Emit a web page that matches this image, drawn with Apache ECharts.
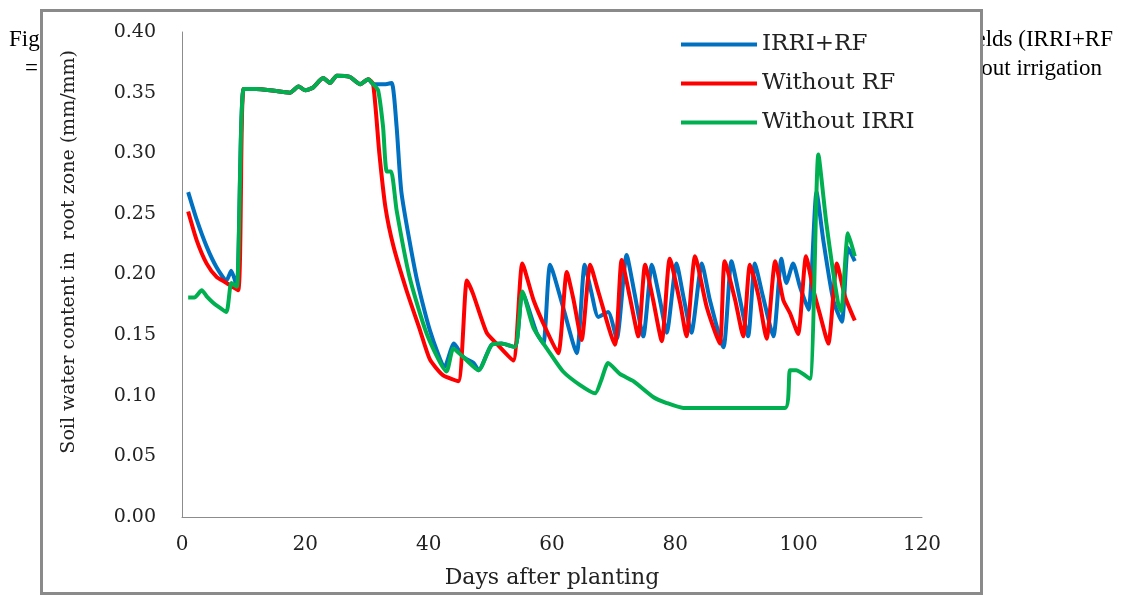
<!DOCTYPE html>
<html>
<head>
<meta charset="utf-8">
<script src="https://cdn.jsdelivr.net/npm/echarts@6/dist/echarts.min.js"></script>
<style>
html,body{margin:0;padding:0;background:#fff;}
#chart{width:1122px;height:595px;}
</style>
</head>
<body>
<div id="chart"></div>
<script>
const seriesNames = ['IRRI+RF', 'Without RF', 'Without IRRI'];
const xTicks = [0, 20, 40, 60, 80, 100, 120];
const yTicks = [0.00, 0.05, 0.10, 0.15, 0.20, 0.25, 0.30, 0.35, 0.40];

const plateau = [[10,0.353],[12,0.353],[14.3,0.352],[17.5,0.350],[18.9,0.355],[20,0.352],[21.2,0.354],[22.9,0.362],[24,0.358],[25.1,0.364],[27.2,0.363],[28.9,0.357],[30.2,0.361],[31,0.357]];

const irriRf = [[1,0.268],[2.4,0.245],[4,0.223],[5.6,0.206],[7.2,0.195],[8,0.203],[8.9,0.190]]
  .concat(plateau)
  .concat([[33,0.357],[34,0.358],[34.8,0.322],[35.6,0.267],[38,0.198],[40.2,0.154],[42.6,0.124],[44.1,0.143],[45.6,0.132],[47.3,0.127],[48.1,0.121],[50.2,0.142],[51.8,0.143],[54,0.140],[55.2,0.185],[57.5,0.152],[58.6,0.143],[59.7,0.208],[61.8,0.173],[64,0.135],[65.3,0.208],[66.4,0.185],[67.5,0.165],[69.1,0.169],[70.5,0.147],[72.1,0.216],[73.4,0.184],[74.8,0.149],[76.2,0.208],[77.5,0.179],[78.6,0.152],[80.2,0.209],[81.3,0.182],[82.6,0.152],[84.3,0.209],[85.6,0.179],[87.8,0.140],[89.1,0.211],[90.5,0.179],[91.8,0.149],[92.9,0.209],[94.2,0.182],[95.9,0.149],[97.2,0.213],[98,0.193],[99.1,0.209],[100.2,0.190],[101.6,0.171],[102.9,0.268],[104,0.228],[105.6,0.179],[107,0.161],[108,0.222],[109.1,0.211]]);

const withoutRf = [[1,0.252],[2.4,0.228],[4,0.209],[5.6,0.198],[6.9,0.194],[9.1,0.187]]
  .concat(plateau)
  .concat([[32,0.300],[33,0.255],[34.3,0.223],[36.4,0.187],[38.6,0.154],[40.2,0.130],[42.3,0.117],[44.8,0.112],[46.2,0.195],[47.2,0.184],[49.4,0.152],[51,0.143],[53.7,0.129],[55.2,0.209],[57,0.179],[59.1,0.154],[61,0.135],[62.4,0.202],[63.5,0.179],[64.8,0.146],[66.2,0.208],[67.5,0.186],[70.2,0.142],[71.3,0.212],[72.6,0.182],[74,0.149],[75.1,0.208],[76.4,0.179],[77.8,0.145],[79.1,0.213],[80.8,0.176],[81.8,0.149],[83.2,0.215],[85.1,0.173],[87.2,0.143],[88,0.211],[89.7,0.179],[91,0.149],[92.1,0.208],[93.5,0.182],[94.8,0.147],[96.2,0.211],[97.5,0.179],[98.6,0.168],[99.9,0.151],[101.2,0.215],[102.4,0.187],[103.4,0.168],[104.8,0.143],[106.2,0.209],[107.5,0.182],[109.1,0.162]]);

const withoutIrri = [[1,0.181],[2,0.181],[3.2,0.187],[4,0.182],[5,0.177],[6,0.173],[7.2,0.169],[8,0.193],[8.9,0.190]]
  .concat(plateau)
  .concat([[31.8,0.352],[32.6,0.322],[33.2,0.285],[33.9,0.285],[34.8,0.253],[36.9,0.198],[39.7,0.151],[42.9,0.120],[44,0.139],[45.6,0.132],[48.1,0.121],[50.2,0.142],[51.8,0.143],[54,0.140],[55.2,0.186],[57,0.156],[59.7,0.135],[61.8,0.120],[64.5,0.109],[67,0.102],[68,0.113],[69.1,0.127],[71,0.118],[73.2,0.112],[76.4,0.099],[78.6,0.094],[81.3,0.090],[97.8,0.090],[98.6,0.121],[99.6,0.121],[101.8,0.114],[103.2,0.299],[104.5,0.242],[106.4,0.176],[106.9,0.170],[108,0.234],[109.1,0.215]]);

const colors = ['#0070C0', '#FF0000', '#00B050'];
const serif = 'DejaVu Serif';
const caption = 'Liberation Serif';

const chart = echarts.init(document.getElementById('chart'), null, {renderer: 'canvas'});
chart.setOption({
  backgroundColor: '#ffffff',
  animation: false,
  graphic: [
    {type: 'text', z: -3, left: 9, top: 28, style: {text: 'Fig. 6 Soil water content', font: '23px "' + caption + '"', fill: '#000'}},
    {type: 'text', z: -3, left: 25, top: 57, style: {text: '= irrigation + rainfall', font: '23px "' + caption + '"', fill: '#000'}},
    {type: 'text', z: -3, right: 9, top: 28, style: {text: 'under different fields (IRRI+RF', font: '23px "' + caption + '"', fill: '#000'}},
    {type: 'text', z: -3, right: 20, top: 57, style: {text: 'without irrigation', font: '23px "' + caption + '"', fill: '#000'}},
    {type: 'rect', z: -2, shape: {x: 41.5, y: 10.5, width: 940, height: 583}, style: {fill: '#ffffff', stroke: '#8a8a8a', lineWidth: 3}},
    {type: 'text', z: 5, left: 60, top: 50, rotation: Math.PI / 2, style: {text: 'Soil water content in  root zone (mm/mm)', font: '19px "' + serif + '"', fill: '#222'}}
  ],
  grid: {left: 182, right: 200, top: 32, bottom: 78, containLabel: false},
  legend: {
    data: seriesNames,
    orient: 'vertical',
    left: 676,
    top: 28,
    icon: 'rect',
    itemWidth: 76,
    itemHeight: 4,
    itemGap: 16,
    textStyle: {fontFamily: serif, fontSize: 23, color: '#222', lineHeight: 23}
  },
  xAxis: {
    type: 'value',
    min: 0, max: 120, interval: 20,
    name: 'Days after planting',
    nameLocation: 'middle',
    nameGap: 50,
    nameTextStyle: {fontFamily: serif, fontSize: 22, color: '#222'},
    axisLine: {show: true, lineStyle: {color: '#8c8c8c', width: 1}},
    axisTick: {show: false},
    splitLine: {show: false},
    axisLabel: {fontFamily: serif, fontSize: 20, color: '#222', margin: 18}
  },
  yAxis: {
    type: 'value',
    min: 0, max: 0.4, interval: 0.05,
    axisLine: {show: true, lineStyle: {color: '#8c8c8c', width: 1}},
    axisTick: {show: false},
    splitLine: {show: false},
    axisLabel: {fontFamily: serif, fontSize: 19, color: '#222', margin: 26, formatter: v => v.toFixed(2)}
  },
  series: [
    {name: seriesNames[0], type: 'line', data: irriRf, smooth: 0.2, symbol: 'none', lineStyle: {width: 4, color: colors[0]}, itemStyle: {color: colors[0]}, z: 2},
    {name: seriesNames[1], type: 'line', data: withoutRf, smooth: 0.2, symbol: 'none', lineStyle: {width: 4, color: colors[1]}, itemStyle: {color: colors[1]}, z: 3},
    {name: seriesNames[2], type: 'line', data: withoutIrri, smooth: 0.2, symbol: 'none', lineStyle: {width: 4, color: colors[2]}, itemStyle: {color: colors[2]}, z: 4}
  ]
});
</script>
</body>
</html>
